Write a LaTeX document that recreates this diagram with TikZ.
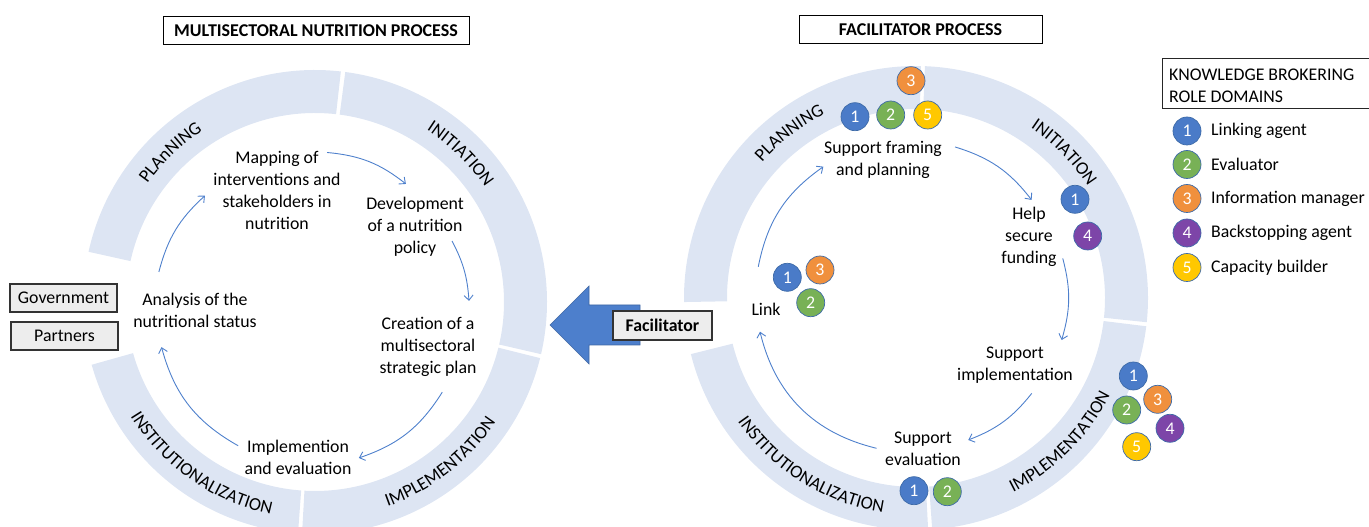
\documentclass[tikz,border=0pt]{standalone}
\usepackage{fontspec}
\setmainfont{Carlito}
\usetikzlibrary{arrows.meta,decorations.text,calc}
\definecolor{ringc}{HTML}{DDE5F3}
\definecolor{flowc}{HTML}{4E80CC}
\definecolor{bigarrowc}{HTML}{4D7FCC}
\definecolor{boxgray}{HTML}{EDEDED}
\definecolor{cone}{HTML}{4A7BC8}
\definecolor{ctwo}{HTML}{78B156}
\definecolor{cthree}{HTML}{F0903D}
\definecolor{cfour}{HTML}{7D45A8}
\definecolor{cfive}{HTML}{FFC800}
\definecolor{badgeline}{HTML}{3E6BA8}
\newcommand{\bodyfont}{\fontsize{17.8}{22}\selectfont}
\newcommand{\ringfont}{\fontsize{18.3}{20}\selectfont}
\newcommand{\ringsec}[2]{\fill[ringc] (#1:232) arc[start angle=#1, end angle=#2, radius=232] -- (#2:189) arc[start angle=#2, end angle=#1, radius=189] -- cycle;}
\newcommand{\toplabel}[2]{%
  \path[decorate, decoration={text along path, text align=center, text={|\ringfont|#2}}] (#1+40:205) arc[start angle=#1+40, end angle=#1-40, radius=205];}
\newcommand{\botlabel}[2]{%
  \path[decorate, decoration={text along path, text align=center, text={|\ringfont|#2}}] (#1-40:217) arc[start angle=#1-40, end angle=#1+40, radius=217];}
\tikzset{
  proc/.style={align=center, font=\bodyfont, inner sep=0pt},
  flow/.style={draw=flowc, line width=0.9pt, -{Straight Barb[length=5pt,width=9pt]}},
  badge/.style={circle, fill=#1, draw=badgeline, line width=0.7pt, minimum size=28pt, inner sep=0pt, text=white, font=\bodyfont},
  titlebox/.style={draw=black, line width=1pt, fill=white, font=\bfseries\fontsize{18}{20}\selectfont, minimum height=28pt, inner sep=0pt},
  graybox/.style={draw=black!80, line width=1.1pt, fill=boxgray, minimum height=28pt, inner sep=0pt},
  legtext/.style={anchor=west, font=\bodyfont, inner sep=0pt},
}
\begin{document}
\begin{tikzpicture}[x=1pt,y=1pt]
\useasboundingbox (0,0) rectangle (1369,527);
\clip (0,0) rectangle (1369,527);

% ---------- left cycle ----------
\begin{scope}[shift={(315,225)}]
  \ringsec{83.6}{167.5}
  \ringsec{-13.0}{82.5}
  \ringsec{-93.2}{-14.0}
  \ringsec{195.7}{265.8}
  \toplabel{134}{PLAnNING}
  \toplabel{45.5}{INITIATION}
  \botlabel{235}{INSTITUTIONALIZATION}
  \botlabel{308}{IMPLEMENTATION}
  \coordinate (la1s) at (85.4:150);   \coordinate (la1e) at (52.4:149);
  \coordinate (la2s) at (24:150);     \coordinate (la2e) at (0.4:154);
  \coordinate (la3s) at (-35.3:156);  \coordinate (la3e) at (-74.3:162);
  \coordinate (la4s) at (-118.1:163); \coordinate (la4e) at (-163.6:160);
  \coordinate (la5s) at (169.1:159);  \coordinate (la5e) at (136:153);
\end{scope}

% ---------- right cycle ----------
\begin{scope}[shift={(916,229)}]
  \ringsec{88.8}{181}
  \ringsec{-6.0}{87.8}
  \ringsec{-86.0}{-7.0}
  \ringsec{194}{273.0}
  \toplabel{127.5}{PLANNING}
  \toplabel{44.5}{INITIATION}
  \botlabel{238}{INSTITUTIONALIZATION}
  \botlabel{315}{IMPLEMENTATION}
  \coordinate (ra1s) at (75.5:156);   \coordinate (ra1e) at (40.3:151.6);
  \coordinate (ra2s) at (15.1:152);   \coordinate (ra2e) at (-16.1:151.6);
  \coordinate (ra3s) at (-39.5:150);  \coordinate (ra3e) at (-69.8:151.3);
  \coordinate (ra4s) at (255.3:155.4);\coordinate (ra4e) at (192.2:159.6);
  \coordinate (ra5s) at (168.8:160.8);\coordinate (ra5e) at (125.2:160.7);
\end{scope}

% ---------- titles ----------
\node[titlebox, minimum width=306pt] (t1) at (316,496) {MULTISECTORAL NUTRITION PROCESS};
\node[titlebox, minimum width=243pt] (t2) at (920.5,497) {FACILITATOR PROCESS};

% ---------- left process ----------
\node[proc] (map) at (277,337) {Mapping of\\interventions and\\stakeholders in\\nutrition};
\node[proc] (dev) at (415,300) {Development\\of a nutrition\\policy};
\node[proc] (cre) at (428,180) {Creation of a\\multisectoral\\strategic plan};
\node[proc] (imp) at (298,70) {Implemention\\and evaluation};
\node[proc] (ana) at (195,217) {Analysis of the\\nutritional status};

\draw[flow] (la1s) to[bend left=16.5] (la1e);
\draw[flow] (la2s) to[bend left=11.8] (la2e);
\draw[flow] (la3s) to[bend left=19.5] (la3e);
\draw[flow] (la4s) to[bend left=22.7] (la4e);
\draw[flow] (la5s) to[bend left=16.5] (la5e);

\node[graybox, minimum width=107pt, font=\bodyfont] (gov) at (63.5,229) {Government};
\node[graybox, minimum width=107pt, font=\bodyfont] (par) at (64.5,191) {Partners};

% ---------- big arrow ----------
\filldraw[fill=bigarrowc, draw=flowc!80!black, line width=0.6pt]
  (550,202) -- (589,241) -- (589,222) -- (640,222) -- (640,182) -- (589,182) -- (589,163) -- cycle;
\node[graybox, minimum width=99pt, minimum height=29pt, font=\bfseries\bodyfont] (fac) at (662.5,201.5) {Facilitator};

% ---------- right process ----------
\node[proc] (sfp) at (883,367) {Support framing\\and planning};
\node[proc] (hsf) at (1029,290.3) {Help\\secure\\funding};
\node[proc] (sim) at (1015,162) {Support\\implementation};
\node[proc] (sev) at (923,78) {Support\\evaluation};
\node[proc] (lnk) at (766,217.7) {Link};

\draw[flow] (ra1s) to[bend left=17.6] (ra1e);
\draw[flow] (ra2s) to[bend left=15.6] (ra2e);
\draw[flow] (ra3s) to[bend left=15.2] (ra3e);
\draw[flow] (ra4s) to[bend left=31.5] (ra4e);
\draw[flow] (ra5s) to[bend left=21.8] (ra5e);

% badges
\node[badge=cthree] (b3a) at (911,446.3) {3};
\node[badge=cone]   (b1a) at (855,410.3) {1};
\node[badge=ctwo]   (b2a) at (890.7,412) {2};
\node[badge=cfive]  (b5a) at (927.7,412) {5};

\node[badge=cone]  (b1b) at (1075,327.7) {1};
\node[badge=cfour] (b4b) at (1087.7,291) {4};

\node[badge=cone]   (b1c) at (1133.3,151) {1};
\node[badge=cthree] (b3c) at (1157.7,127.7) {3};
\node[badge=ctwo]   (b2c) at (1126.7,117) {2};
\node[badge=cfour]  (b4c) at (1170,98.7) {4};
\node[badge=cfive]  (b5c) at (1136.7,80.3) {5};

\node[badge=cone] (b1d) at (914,36.3) {1};
\node[badge=ctwo] (b2d) at (947.3,35.3) {2};

\node[badge=cone]   (b1e) at (787.3,249.7) {1};
\node[badge=cthree] (b3e) at (820,257) {3};
\node[badge=ctwo]   (b2e) at (810.7,224.3) {2};

% ---------- legend ----------
\draw[black!85, line width=1pt, fill=white] (1162,418) rectangle (1372,468);
\node[anchor=west, align=left, font=\bodyfont, inner sep=0pt] (kbt) at (1169,441.5) {KNOWLEDGE BROKERING\\ROLE DOMAINS};
\node[badge=cone]   (l1) at (1187,396) {1};
\node[badge=ctwo]   (l2) at (1187,362.5) {2};
\node[badge=cthree] (l3) at (1187,328.5) {3};
\node[badge=cfour]  (l4) at (1187,294) {4};
\node[badge=cfive]  (l5) at (1187,259.5) {5};
\node[legtext] (lt1) at (1211,396) {Linking agent};
\node[legtext] (lt2) at (1211,362.5) {Evaluator};
\node[legtext] (lt3) at (1211,328.5) {Information manager};
\node[legtext] (lt4) at (1211,294) {Backstopping agent};
\node[legtext] (lt5) at (1211,259.5) {Capacity builder};
\end{tikzpicture}
\end{document}
